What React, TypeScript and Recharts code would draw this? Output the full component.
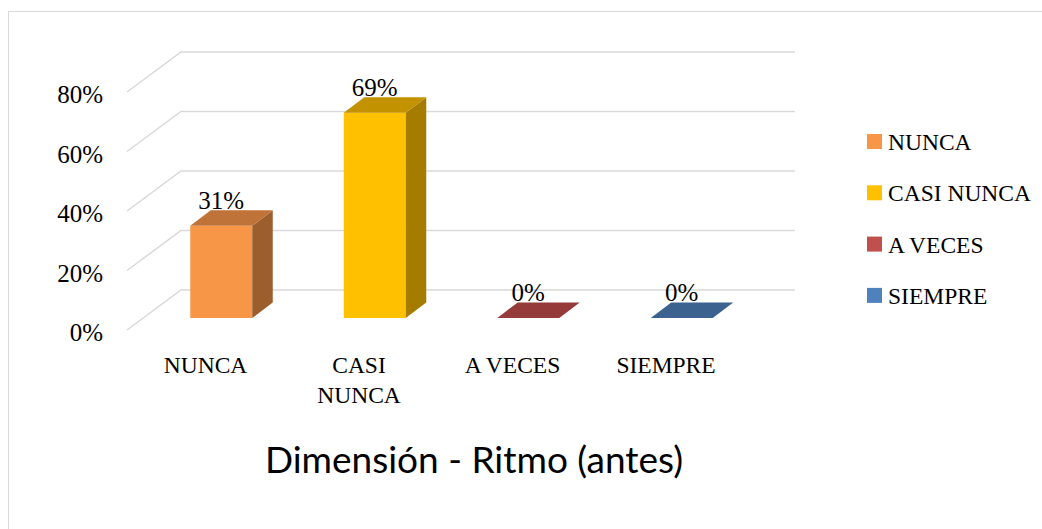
import { BarChart, Bar, XAxis, YAxis, CartesianGrid, Legend, LabelList } from 'recharts';

const categories = ['NUNCA', 'CASI NUNCA', 'A VECES', 'SIEMPRE'];
const percentages = [31, 69, 0, 0];
const yTicks = [0, 20, 40, 60, 80];
const title = 'Dimensión - Ritmo (antes)';

const frontColors = ['#F79646', '#FFC000', '#C0504D', '#4F81BD'];
const topColors = ['#C07338', '#C29200', '#953B39', '#3C6290'];
const sideColors = ['#9C5E2D', '#A67C00', '#7F3230', '#335479'];

const data = categories.map((name, i) => ({ name, value: percentages[i] }));

// fake 3d: bars sit a bit behind the front plane, walls further back
const BAR_SHIFT_X = 15.5;
const BAR_SHIFT_Y = -12;
const DEPTH_X = 20.5;
const DEPTH_Y = -15.5;
const WALL_X = 54;
const WALL_Y = -40;

const SERIF = '"Liberation Serif", serif';

function Box3D(props: any) {
  const { x, y, width, height, index } = props;
  const X = x + BAR_SHIFT_X;
  const Y = y + BAR_SHIFT_Y;
  const W = width;
  const H = Math.max(height, 0);
  const top = `${X},${Y} ${X + DEPTH_X},${Y + DEPTH_Y} ${X + W + DEPTH_X},${Y + DEPTH_Y} ${X + W},${Y}`;
  const side = `${X + W},${Y} ${X + W + DEPTH_X},${Y + DEPTH_Y} ${X + W + DEPTH_X},${Y + H + DEPTH_Y} ${X + W},${Y + H}`;
  return (
    <g>
      {H > 0 && <rect x={X} y={Y} width={W} height={H} fill={frontColors[index]} />}
      {H > 0 && <polygon points={side} fill={sideColors[index]} />}
      <polygon points={top} fill={topColors[index]} />
    </g>
  );
}

function WallLine(props: any) {
  const { x1, x2, y1 } = props;
  const sx = x1 - 1.75;
  return (
    <path
      key={props.key}
      d={`M${sx},${y1} L${sx + WALL_X},${y1 + WALL_Y} L${x2 + 52},${y1 + WALL_Y}`}
      stroke="#d9d9d9"
      strokeWidth={1.5}
      fill="none"
    />
  );
}

function YTick(props: any) {
  const { x, y, payload } = props;
  return (
    <text x={x} y={y + 11} textAnchor="end" fontFamily={SERIF} fontSize={25} fill="#000">
      {payload.value}%
    </text>
  );
}

function XTick(props: any) {
  const { x, y, payload } = props;
  const label: string = payload.value;
  const lines = label.length > 8 ? label.split(' ') : [label];
  return (
    <text x={x} y={y + 43} textAnchor="middle" fontFamily={SERIF} fontSize={23.5} fill="#000">
      {lines.map((l, i) => (
        <tspan key={i} x={x} dy={i === 0 ? 0 : 30}>
          {l}
        </tspan>
      ))}
    </text>
  );
}

function ValueLabel(props: any) {
  const { x, y, width, value } = props;
  return (
    <text
      x={x + BAR_SHIFT_X + width / 2}
      y={y + BAR_SHIFT_Y + DEPTH_Y - 1.5}
      textAnchor="middle"
      fontFamily={SERIF}
      fontSize={25}
      fill="#000"
    >
      {value}%
    </text>
  );
}

function LegendBox() {
  return (
    <svg width={180} height={200} style={{ display: 'block' }}>
      {categories.map((c, i) => (
        <g key={c}>
          <rect x={7} y={14 + i * 51.3} width={15} height={15} fill={frontColors[i]} />
          <text x={28} y={30 + i * 51.3} fontFamily={SERIF} fontSize={23.5} fill="#000">
            {c}
          </text>
        </g>
      ))}
    </svg>
  );
}

export default function App() {
  return (
    <div style={{ position: 'absolute', left: 0, top: 0, width: 1042, height: 529, overflow: 'hidden', background: '#fff' }}>
      <svg width={1042} height={529} style={{ position: 'absolute', left: 0, top: 0 }}>
        <rect x={8.5} y={11.5} width={1100} height={600} fill="none" stroke="#d9d9d9" strokeWidth={1} />
        <text x={474} y={473} textAnchor="middle" fontFamily="Lato, sans-serif" fontSize={37} fill="#000">
          {title}
        </text>
      </svg>
      <div style={{ position: 'absolute', left: 0, top: 0 }}>
        <BarChart
          width={1042}
          height={529}
          data={data}
          margin={{ top: 92, right: 299.25, left: 0, bottom: 0 }}
        >
          <CartesianGrid vertical={false} horizontal={(p: any) => <WallLine {...p} />} />
          <XAxis
            dataKey="name"
            axisLine={false}
            tickLine={false}
            tickSize={0}
            tickMargin={0}
            height={199}
            interval={0}
            tick={<XTick />}
          />
          <YAxis
            domain={[0, 80]}
            ticks={yTicks}
            axisLine={false}
            tickLine={false}
            tickSize={0}
            tickMargin={25.75}
            width={128.75}
            tick={<YTick />}
          />
          <Legend
            layout="vertical"
            align="center"
            verticalAlign="middle"
            wrapperStyle={{ left: 860, top: 120, width: 180 }}
            content={() => <LegendBox />}
          />
          <Bar dataKey="value" barSize={62} shape={Box3D} isAnimationActive={false}>
            <LabelList dataKey="value" content={ValueLabel} />
          </Bar>
        </BarChart>
      </div>
    </div>
  );
}
